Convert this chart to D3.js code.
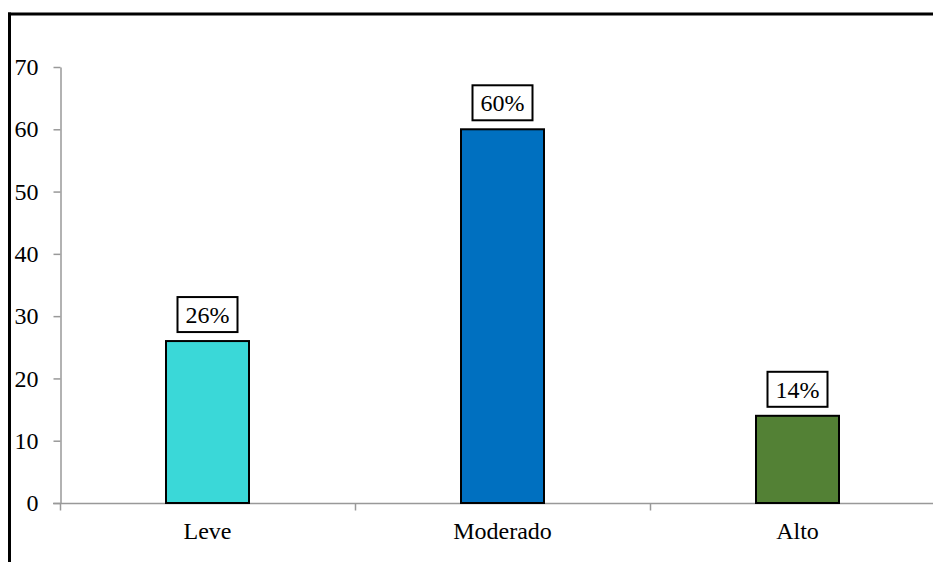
<!DOCTYPE html>
<html>
<head>
<meta charset="utf-8">
<script src="https://cdn.jsdelivr.net/npm/d3@7/dist/d3.min.js"></script>
<style>
  html, body { margin: 0; padding: 0; background: #fff; }
  svg { display: block; }
</style>
</head>
<body>
<svg id="chart" width="933" height="562"></svg>
<script>
// Severity levels and their share of cases (%)
const categories = ["Leve", "Moderado", "Alto"];
const values = [26, 60, 14];
const labels = ["26%", "60%", "14%"];
const colors = ["#3ad8d8", "#0070c0", "#538135"];
const yTicks = [0, 10, 20, 30, 40, 50, 60, 70];

const svg = d3.select("#chart");
const font = "'Liberation Serif', 'Times New Roman', serif";

// Outer frame (top and left edges)
svg.append("line").attr("x1", 8).attr("x2", 933).attr("y1", 14).attr("y2", 14)
  .attr("stroke", "#000").attr("stroke-width", 3);
svg.append("line").attr("x1", 9.5).attr("x2", 9.5).attr("y1", 12.5).attr("y2", 562)
  .attr("stroke", "#000").attr("stroke-width", 3);

const x = d3.scaleBand().domain(categories).range([60, 945]).paddingInner(0).paddingOuter(0);
const y = d3.scaleLinear().domain([0, 70]).range([503, 67]);

const axisColor = "#999";

// Y axis
const yAxis = svg.append("g").attr("transform", "translate(60.5,0)")
  .call(d3.axisLeft(y).tickValues(yTicks).tickSize(7).tickSizeOuter(0).tickPadding(15));
yAxis.attr("font-family", font).attr("font-size", 24);
yAxis.select(".domain").attr("stroke", axisColor).attr("stroke-width", 1.5);
yAxis.selectAll(".tick line").attr("stroke", axisColor).attr("stroke-width", 1.5);
yAxis.selectAll(".tick text").attr("font-family", font).attr("font-size", 24).attr("fill", "#000");

// X axis with category-boundary ticks
const xAxis = svg.append("g").attr("transform", "translate(0,503.5)");
xAxis.append("line").attr("x1", 53).attr("x2", 933).attr("y1", 0).attr("y2", 0)
  .attr("stroke", axisColor).attr("stroke-width", 1.5);
xAxis.selectAll("line.bound").data(categories).join("line").attr("class", "bound")
  .attr("x1", d => Math.round(x(d)) + 0.5).attr("x2", d => Math.round(x(d)) + 0.5)
  .attr("y1", 0).attr("y2", 7).attr("stroke", axisColor).attr("stroke-width", 1.5);
xAxis.selectAll("text").data(categories).join("text")
  .attr("x", d => x(d) + x.bandwidth() / 2).attr("y", 35.5)
  .attr("text-anchor", "middle").attr("font-family", font).attr("font-size", 24)
  .text(d => d);

// Bars
const barW = 83;
svg.selectAll("rect.bar").data(values).join("rect").attr("class", "bar")
  .attr("x", (d, i) => x(categories[i]) + x.bandwidth() / 2 - barW / 2)
  .attr("y", d => y(d))
  .attr("width", barW)
  .attr("height", d => y(0) - y(d))
  .attr("fill", (d, i) => colors[i])
  .attr("stroke", "#000").attr("stroke-width", 2);

// Value labels in boxes
const boxW = 60, boxH = 35;
const lab = svg.selectAll("g.lab").data(values).join("g").attr("class", "lab")
  .attr("transform", (d, i) => `translate(${x(categories[i]) + x.bandwidth() / 2},${y(d) - 9})`);
lab.append("rect").attr("x", -boxW / 2).attr("y", -boxH).attr("width", boxW).attr("height", boxH)
  .attr("fill", "#fff").attr("stroke", "#000").attr("stroke-width", 2);
lab.append("text").attr("x", 0).attr("y", -9).attr("text-anchor", "middle")
  .attr("font-family", font).attr("font-size", 24)
  .text((d, i) => labels[i]);
</script>
</body>
</html>
